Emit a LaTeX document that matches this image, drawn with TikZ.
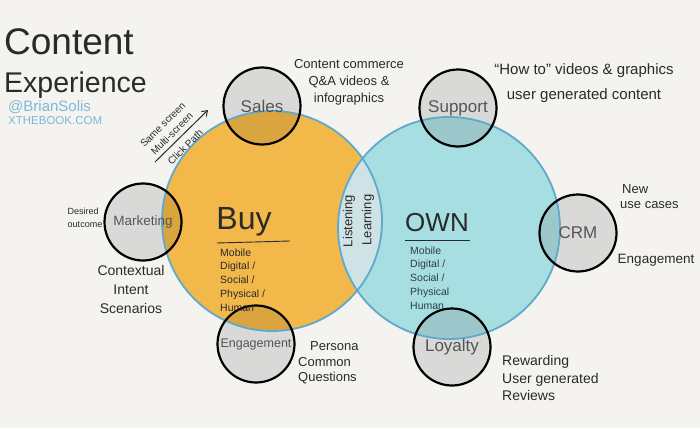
\documentclass[tikz,border=0pt]{standalone}
\usepackage{fontspec}
\setmainfont{Liberation Sans}
\usetikzlibrary{arrows.meta}
\definecolor{bg}{HTML}{F4F3EF}
\definecolor{buyfill}{HTML}{F2B94A}
\definecolor{ownfill}{HTML}{A6DEE1}
\definecolor{lensfill}{HTML}{CFE3E6}
\definecolor{rimblue}{HTML}{5FA9CC}
\definecolor{smallfill}{HTML}{D9D9D8}
\definecolor{buyover}{HTML}{DAA43F}
\definecolor{ownover}{HTML}{9CC8CB}
\definecolor{ink}{HTML}{2A2A2A}
\definecolor{labelink}{HTML}{555555}
\definecolor{webblue}{HTML}{7DB9D8}
\definecolor{ownink}{HTML}{2E3F48}
\tikzset{
  smallcircle/.style={circle, draw=black, line width=2.2pt, minimum size=77pt, inner sep=0pt,
    text=labelink, font=\fontsize{17}{17}\selectfont},
  note/.style={text=ink, inner sep=0pt, font=\fontsize{13}{17}\selectfont},
  listtext/.style={inner sep=0pt, align=left, font=\fontsize{10.5}{13.8}\selectfont},
  rim/.style={draw=rimblue, line width=1.8pt},
}
\begin{document}
\begin{tikzpicture}[x=1pt,y=-1pt]
\fill[bg] (0,0) rectangle (700,428);
\useasboundingbox (0,0) rectangle (700,428);
% big circles
\def\buyc{(272,221) circle[radius=110pt]}
\def\ownc{(449,228) circle[radius=111pt]}
\fill[buyfill] \buyc;
\fill[ownfill] \ownc;
\begin{scope}
  \clip \buyc;
  \fill[lensfill] \ownc;
\end{scope}
% small circle fills with overlaps
\foreach \p in {(262,106),(458,108),(143,222),(578,233),(256,344),(452,347)}{
  \fill[smallfill] \p circle[radius=38.5pt];
  \begin{scope}
    \clip \p circle[radius=38.5pt];
    \fill[buyover] \buyc;
    \fill[ownover] \ownc;
  \end{scope}
}
% rims
\draw[rim] \buyc;
\draw[rim] \ownc;
% small circles
\node[smallcircle] (sales) at (262,106) {Sales};
\node[smallcircle] (support) at (458,108) {Support};
\node[smallcircle, font=\fontsize{13.5}{13.5}\selectfont] (marketing) at (143,222) {Marketing};
\node[smallcircle] (crm) at (578,233) {CRM};
\node[smallcircle, font=\fontsize{12.5}{12.5}\selectfont] (engage) at (256,344) {Engagement};
\node[smallcircle] (loyalty) at (452,347) {Loyalty};
% title
\node[anchor=base west, inner sep=0pt, text=ink, font=\fontsize{37}{37}\selectfont] (title1) at (4,55) {Content};
\node[anchor=base west, inner sep=0pt, text=ink, font=\fontsize{28.5}{28.5}\selectfont] (title2) at (4,92) {Experience};
\node[anchor=west, inner sep=0pt, text=webblue, font=\fontsize{15}{15}\selectfont] (handle) at (8,107) {@BrianSolis};
\node[anchor=west, inner sep=0pt, text=webblue, font=\fontsize{11.5}{11.5}\selectfont] (site) at (8,121) {XTHEBOOK.COM};
% click path
\node[note, rotate=45, align=center, font=\fontsize{10}{13}\selectfont] (screens) at (174,136) {Same screen\\Multi-screen\\[6pt]Click Path};
\coordinate (cpA) at (155,162);
\coordinate (cpB) at (208,110);
\draw[ink, line width=1pt, -{Straight Barb[length=5pt,width=7pt]}] (cpA) -- (cpB);
% notes
\node[note, align=center] (commerce) at (349,82) {Content commerce\\Q\&A videos \&\\infographics};
\node[note, align=center, font=\fontsize{15}{25}\selectfont] (howto) at (584,83) {``How to'' videos \& graphics\\user generated content};
\node[note, align=left, font=\fontsize{9}{13}\selectfont] (desired) at (85,218) {Desired\\outcome};
\node[note, align=center, font=\fontsize{14}{19}\selectfont] (context) at (131,289) {Contextual\\Intent\\Scenarios};
\node[note, align=left, anchor=west, font=\fontsize{13}{15.5}\selectfont] (persona) at (298,363) {\hspace{12pt}Persona\\Common\\Questions};
\node[note, align=left, anchor=west, font=\fontsize{14}{17.5}\selectfont] (reward) at (502,378) {Rewarding\\User generated\\Reviews};
\node[note, align=left, anchor=west, font=\fontsize{13}{15}\selectfont] (newuse) at (620,197) {\hspace{2pt}New\\use cases};
\node[note, anchor=center, font=\fontsize{13.5}{13.5}\selectfont] (engnote) at (656,260) {Engagement};
% Buy
\node[inner sep=0pt, text=ink, font=\fontsize{32}{32}\selectfont] (buy) at (244,222) {Buy};
\draw[ink, line width=0.9pt] (217,243) -- (290,241);
\node[listtext, anchor=west, text=ink] (buylist) at (220,280) {Mobile\\Digital /\\Social /\\Physical /\\Human};
% Own
\node[inner sep=0pt, text=ink, font=\fontsize{26}{26}\selectfont] (own) at (437,223) {OWN};
\draw[ink, line width=0.9pt] (405,240) -- (470,240);
\node[listtext, anchor=west, text=ownink] (ownlist) at (410,278) {Mobile\\Digital /\\Social /\\Physical\\Human};
% lens
\node[note, rotate=90, font=\fontsize{13}{13}\selectfont] (listen) at (349,221) {Listening};
\node[note, rotate=90, font=\fontsize{13}{13}\selectfont] (learn) at (368,220) {Learning};
\end{tikzpicture}
\end{document}
